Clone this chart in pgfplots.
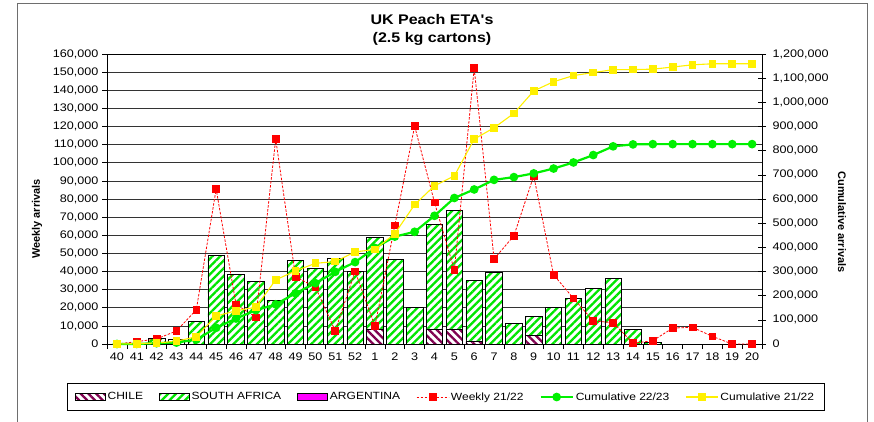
\documentclass[border=0pt]{standalone}
\usepackage{fontspec}
\setmainfont{Liberation Sans}
\newfontfamily\widefont[FakeStretch=1.15]{Liberation Sans}
\newfontfamily\titlefont[FakeStretch=1.15,Ligatures=TeXOff]{Liberation Sans}
\usepackage{pgfplots}
\usepackage{pgfplotstable}
\pgfplotsset{compat=1.18}
\usetikzlibrary{patterns.meta}

\definecolor{hatchgreen}{RGB}{0,230,0}
\definecolor{chilepurple}{RGB}{128,0,80}
\definecolor{argmagenta}{RGB}{255,0,255}
\definecolor{weeklyred}{RGB}{255,0,0}
\definecolor{cumgreen}{RGB}{0,240,0}
\definecolor{cumyellow}{RGB}{255,240,0}
\definecolor{framegray}{RGB}{110,110,110}

% idx: 0 = week 40 ... 12 = week 52, 13 = week 1 ... 32 = week 20
\pgfplotstableread{
idx week chile sa    arg weekly cumnew  cumold
0   40   0     0     0   0      0       0
1   41   0     300   0   1300   300     1300
2   42   0     3100  0   2800   3400    4100
3   43   0     2500  0   7200   5900    11300
4   44   0     12300 0   18900  18200   30200
5   45   0     48900 0   85500  67100   115700
6   46   0     38200 0   21900  105300  137600
7   47   0     34600 0   14700  139900  152300
8   48   0     24100 0   113100 164000  265400
9   49   0     46000 0   37100  210000  302500
10  50   0     41700 0   31400  251700  333900
11  51   0     47000 0   7200   298700  341100
12  52   0     40100 0   40100  338800  381200
13  1    8300  50500 0   9900   397600  391100
14  2    0     46700 0   65400  444300  456500
15  3    0     20000 0   120200 464300  576700
16  4    8300  57900 0   78100  530500  654800
17  5    8300  65400 0   40800  604200  695600
18  6    1700  33600 0   152200 639500  847800
19  7    0     39700 0   46900  679200  894700
20  8    0     11400 0   59700  690600  954400
21  9    4800  10600 0   92800  706000  1047200
22  10   0     20000 0   38200  726000  1085400
23  11   0     25200 0   25200  751200  1110600
24  12   0     30700 0   12700  781900  1123300
25  13   0     36000 0   11800  817900  1135100
26  14   0     8100  0   400    826000  1135500
27  15   0     1100  0   1800   827100  1137300
28  16   0     0     0   8800   827100  1146100
29  17   0     0     0   9200   827100  1155300
30  18   0     0     0   4200   827100  1159500
31  19   0     0     0   0      827100  1159500
32  20   0     0     0   0      827100  1159500
}\datatable

\pgfplotsset{
  chartaxis/.style={at={(107bp,-344bp)}, anchor=south west, scale only axis,
    width=655bp, height=290bp, xmin=-0.5, xmax=32.5, clip=false},
  barlegend/.style={legend image code/.code={\draw[##1] (0bp,-3.5bp) rectangle (30bp,3.5bp);}},
  linelegend/.style={legend image code/.code={\draw[mark repeat=2,mark phase=2,##1] plot coordinates {(0bp,0bp) (16bp,0bp) (32bp,0bp)};}},
  chilestyle/.style={draw=black, line width=0.7bp, pattern={Lines[angle=-45,distance=5.5bp,line width=2.3bp]}, pattern color=chilepurple},
  sastyle/.style={draw=black, line width=0.7bp, pattern={Lines[angle=45,distance=5.5bp,line width=2.3bp]}, pattern color=hatchgreen},
  argstyle/.style={draw=black, line width=0.7bp, fill=argmagenta},
  weeklystyle/.style={weeklyred, line width=0.8bp, dash pattern=on 2.5bp off 1.5bp, mark=square*, mark size=3.4bp, mark options={solid, fill=weeklyred, draw=weeklyred}},
  newstyle/.style={cumgreen, line width=2.2bp, mark=*, mark size=3.2bp, mark options={solid, fill=cumgreen, draw=cumgreen}},
  oldstyle/.style={cumyellow, line width=1.1bp, mark=square*, mark size=3.3bp, mark options={solid, fill=cumyellow, draw=cumyellow}},
  ticks/.style={tick label style={font=\widefont\fontsize{11}{13}\selectfont, /pgf/number format/assume math mode=true},
    yticklabel style={/pgf/number format/.cd, fixed, 1000 sep={,}}, scaled y ticks=false},
}

\begin{document}
\begin{tikzpicture}
\path[use as bounding box] (0bp,0bp) rectangle (874bp,-422bp);
\draw[framegray, line width=0.8bp] (17bp,-430bp) -- (17bp,-3bp) -- (867bp,-3bp) -- (867bp,-430bp);
\node[font=\titlefont\bfseries\fontsize{14}{18}\selectfont, align=center] at (432bp,-30bp) {UK Peach ETA's\\(2.5 kg cartons)};
\node[rotate=90, font=\bfseries\fontsize{11}{13}\selectfont] at (37bp,-219bp) {Weekly arrivals};
\node[rotate=-90, font=\bfseries\fontsize{11}{13}\selectfont] at (842bp,-222bp) {Cumulative arrivals};

% bars, left scale
\begin{axis}[chartaxis, ticks, ymin=0, ymax=160000, ytick distance=10000,
  ybar stacked, bar width=16.5bp,
  axis line style={black, line width=0.8bp},
  ymajorgrids, major grid style={black!80, line width=0.6bp},
  xtick={0,...,32},
  xticklabels={40,41,42,43,44,45,46,47,48,49,50,51,52,1,2,3,4,5,6,7,8,9,10,11,12,13,14,15,16,17,18,19,20},
  minor xtick={-0.5,0.5,...,32.5},
  xtick pos=bottom, ytick pos=left, tick align=outside,
  major tick length=5bp, minor tick length=5bp,
  major x tick style={draw=none}, minor x tick style={black, line width=0.6bp},
  y tick style={black, line width=0.6bp}]
\addplot[chilestyle, preaction={fill=white}] table[x=idx, y=chile] {\datatable};
\addplot[sastyle, preaction={fill=white}] table[x=idx, y=sa] {\datatable};
\addplot[argstyle] table[x=idx, y=arg] {\datatable};
\end{axis}

% weekly 21/22, left scale
\begin{axis}[chartaxis, ymin=0, ymax=160000, hide axis]
\addplot[weeklystyle] table[x=idx, y=weekly] {\datatable};
\end{axis}

% cumulative, right scale
\begin{axis}[chartaxis, ticks, ymin=0, ymax=1200000, ytick distance=100000,
  axis x line=none, axis y line*=right, tick align=center, major tick length=8bp,
  axis line style={black, line width=0.8bp}, y tick style={black, line width=0.6bp},
  yticklabel style={xshift=3bp},
  legend columns=6,
  legend cell align=left,
  legend style={at={(0.5168,-0.1828)}, anchor=center, draw=black, line width=0.8bp,
    font=\widefont\fontsize{10.5}{12}\selectfont, inner xsep=8bp, inner ysep=7bp,
    /tikz/every even column/.append style={column sep=14bp}}]
\addlegendimage{barlegend, chilestyle}
\addlegendentry{CHILE}
\addlegendimage{barlegend, sastyle}
\addlegendentry{SOUTH AFRICA}
\addlegendimage{barlegend, argstyle}
\addlegendentry{ARGENTINA}
\addlegendimage{linelegend, weeklystyle}
\addlegendentry{Weekly 21/22}
\addplot[newstyle, linelegend] table[x=idx, y=cumnew] {\datatable};
\addlegendentry{Cumulative 22/23}
\addplot[oldstyle, linelegend] table[x=idx, y=cumold] {\datatable};
\addlegendentry{Cumulative 21/22}
\end{axis}
\end{tikzpicture}
\end{document}
